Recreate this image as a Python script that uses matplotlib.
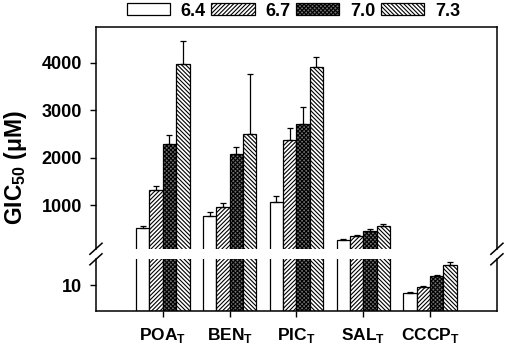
import numpy as np
import matplotlib
matplotlib.use('Agg')
from matplotlib import pyplot as plt
from matplotlib.lines import Line2D

plt.rcParams['font.family'] = ['Liberation Sans', 'DejaVu Sans']
plt.rcParams['font.weight'] = 'bold'
plt.rcParams['mathtext.fontset'] = 'custom'
plt.rcParams['mathtext.rm'] = 'Liberation Sans:bold'
plt.rcParams['mathtext.bf'] = 'Liberation Sans:bold'
plt.rcParams['hatch.linewidth'] = 0.8

# 数据
groups = ['POA', 'BEN', 'PIC', 'SAL', 'CCCP']
ph_labels = ['6.4', '6.7', '7.0', '7.3']
gic_64 = [508, 768, 1070, 262, 6.8]
gic_67 = [1316, 958, 2371, 340, 9.3]
gic_70 = [2293, 2082, 2702, 458, 13.5]
gic_73 = [3975, 2504, 3918, 551, 17.8]
err_64 = [55, 78, 114, 20, 0.3]
err_67 = [91, 91, 247, 21, 0.4]
err_70 = [177, 135, 359, 42, 0.5]
err_73 = [491, 1266, 198, 42, 1.0]

values = [gic_64, gic_67, gic_70, gic_73]
errors = [err_64, err_67, err_70, err_73]
hatches = ['', '////////', 'xxxxxxxx', '\\\\\\\\\\\\\\\\']
faces = ['white', 'white', '#707070', 'white']

fig = plt.figure(figsize=(5.05, 3.46), dpi=100)
ax_top = fig.add_axes([0.190, 0.281, 0.794, 0.642])
ax_bot = fig.add_axes([0.190, 0.102, 0.794, 0.1486])

x = np.arange(len(groups))
w = 0.2
for i in range(4):
    pos = x + (i - 1.5) * w
    for ax in (ax_top, ax_bot):
        ax.bar(pos, values[i], w, color=faces[i], edgecolor='black', linewidth=0.9,
               hatch=hatches[i], label=ph_labels[i] if ax is ax_top else None)
        ax.errorbar(pos, values[i], yerr=[np.zeros(len(groups)), errors[i]], fmt='none',
                    ecolor='black', elinewidth=0.9, capsize=2.5, capthick=0.9)

ax_top.set_ylim(80, 4760)
ax_bot.set_ylim(0, 20)
for ax in (ax_top, ax_bot):
    ax.set_xlim(-1, 5)
    for s in ax.spines.values():
        s.set_linewidth(1.1)
    ax.tick_params(axis='y', direction='out', length=4, width=1, labelsize=13, pad=6)

ax_top.spines['bottom'].set_visible(False)
ax_bot.spines['top'].set_visible(False)
ax_top.set_yticks([1000, 2000, 3000, 4000])
ax_top.set_xticks([])
ax_bot.set_yticks([10])
ax_bot.set_xticks(x)
ax_bot.set_xticklabels([g + r'$_{\mathbf{T}}$' for g in groups])
ax_bot.tick_params(axis='x', direction='out', length=4, width=1, labelsize=12.5, pad=7)

# 断轴标记
for xf in (0.190, 0.984):
    for yf in (0.281, 0.2506):
        fig.add_artist(Line2D([xf - 0.012, xf + 0.012], [yf - 0.016, yf + 0.016],
                              color='black', lw=1.1, transform=fig.transFigure))

fig.text(0.03, 0.517, r'GIC$_{\mathbf{50}}$ (μM)', rotation=90, ha='center', va='center',
         fontsize=16.5, fontweight='bold')

fig.legend(loc='center', bbox_to_anchor=(0.581, 0.968), ncol=4, frameon=False,
           fontsize=13, handlelength=2.4, handleheight=0.6, handletextpad=0.6,
           columnspacing=0.3, borderaxespad=0)

fig.savefig('out.png', dpi=100)
